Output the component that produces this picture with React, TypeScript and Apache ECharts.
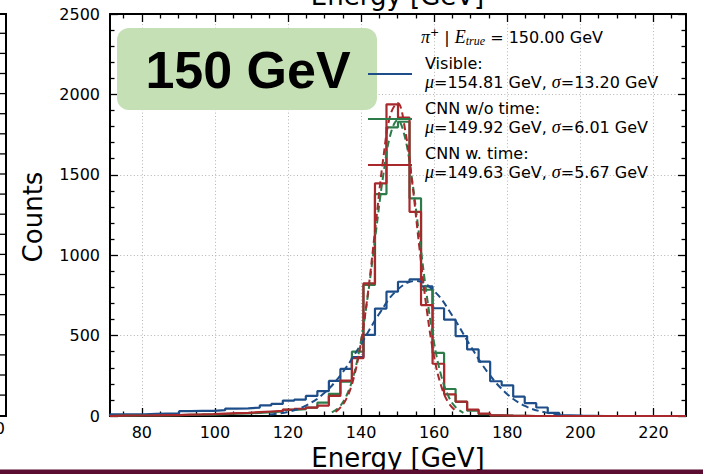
import React, { useEffect, useRef } from "react";
import * as echarts from "echarts";

// ---------- data ----------
const xMin = 71.3;
const xMax = 228.9;
const binWidth = 3.152;

const visibleCounts = [10, 10, 11, 14, 15, 16, 30, 32, 32, 36, 46, 48, 52, 66, 75, 96, 102, 125, 155, 218, 293, 366, 504, 668, 773, 835, 850, 806, 670, 599, 497, 414, 338, 216, 191, 120, 80, 53, 19, 4, 2, 1, 0, 0, 0, 0, 0, 0, 0, 0];
const cnnNoTimeCounts = [2, 2, 3, 3, 4, 5, 7, 8, 9, 12, 14, 16, 20, 24, 28, 38, 42, 52, 83, 138, 214, 400, 815, 1380, 1795, 1830, 1354, 785, 392, 168, 88, 33, 11, 4, 2, 1, 0, 0, 0, 0, 0, 0, 0, 0, 0, 0, 0, 0, 0, 0];
const cnnTimeCounts = [2, 3, 3, 4, 5, 6, 9, 10, 12, 15, 18, 20, 24, 28, 32, 40, 45, 52, 65, 125, 220, 359, 825, 1447, 1938, 1855, 1270, 690, 325, 135, 90, 40, 15, 4, 2, 1, 0, 0, 0, 0, 0, 0, 0, 0, 0, 0, 0, 0, 0, 0];

const visibleFitX = [115, 120, 125, 130, 135, 140, 145, 150, 155, 160, 165, 170, 175, 180, 185, 190, 194.5];
const visibleFitY = [9, 26, 66, 144, 273, 448, 637, 786, 840, 777, 623, 433, 261, 136, 61, 24, 10];
const cnnNoTimeFitX = [132, 134, 136, 138, 140, 142, 144, 146, 148, 150, 152, 154, 156, 158, 160, 162, 164, 166, 168];
const cnnNoTimeFitY = [22, 55, 126, 257, 471, 773, 1133, 1487, 1748, 1840, 1733, 1462, 1103, 745, 451, 244, 118, 51, 20];
const cnnTimeFitX = [133, 134, 136, 138, 140, 142, 144, 146, 148, 150, 152, 154, 156, 158, 160, 162, 164, 166];
const cnnTimeFitY = [26, 44, 108, 238, 462, 789, 1191, 1589, 1872, 1946, 1786, 1449, 1037, 656, 366, 181, 79, 30];

const seriesNames = ["Visible", "CNN w/o time", "CNN w. time"];
const fitMeans = [154.81, 149.92, 149.63];
const fitSigmas = [13.2, 6.01, 5.67];
const trueEnergy = 150.0;

const xMajorTicks = [80, 100, 120, 140, 160, 180, 200, 220];
const xMinorTicks = [75, 85, 90, 95, 105, 110, 115, 125, 130, 135, 145, 150, 155, 165, 170, 175, 185, 190, 195, 205, 210, 215, 225];
const yMax = 2500;
const yInterval = 500;

// ---------- styles ----------
const BLUE = "#1d4e89";
const GREEN = "#2e7b4a";
const RED = "#a8282c";
const FONT = "DejaVu Sans";
const GRID_LINE = { color: "#b4b4b4", width: 1, type: [1, 2.4] as any };

function stepPoints(counts: number[]) {
  const pts: number[][] = [[xMin, 0]];
  counts.forEach((c, i) => pts.push([xMin + i * binWidth, c]));
  const end = xMin + counts.length * binWidth;
  pts.push([end, counts[counts.length - 1]]);
  pts.push([end, 0]);
  return pts;
}

function zip(xs: number[], ys: number[]) {
  return xs.map((x, i) => [x, ys[i]]);
}

const histSeries = (name: string, counts: number[], color: string) => ({
  name,
  type: "line",
  step: "end",
  data: stepPoints(counts),
  showSymbol: false,
  symbol: "none",
  lineStyle: { color, width: 2.2 },
  z: 3,
  silent: true,
});

const fitSeries = (name: string, xs: number[], ys: number[], color: string) => ({
  name,
  type: "line",
  smooth: 0.4,
  data: zip(xs, ys),
  showSymbol: false,
  symbol: "none",
  lineStyle: { color, width: 2, type: [7, 4] },
  z: 4,
  silent: true,
});

const tickLine = { color: "#000", width: 1.3 };

const xAxisBase = { type: "value", min: xMin, max: xMax };

export default function App() {
  const ref = useRef<HTMLDivElement>(null);
  useEffect(() => {
    if (!ref.current) return;
    const chart = echarts.init(ref.current, null, { renderer: "svg" });

    const legendX = 425;
    const legendEntries = [
      { color: BLUE, y1: 63, y2: 82, handleY: 74 },
      { color: GREEN, y1: 108, y2: 127, handleY: 119 },
      { color: RED, y1: 153, y2: 172, handleY: 165 },
    ];
    const rich = {
      m: { fontFamily: "Liberation Serif", fontStyle: "italic", fontSize: 18 },
      sup: { fontFamily: FONT, fontSize: 11, verticalAlign: "top" },
      sub: { fontFamily: "Liberation Serif", fontStyle: "italic", fontSize: 12, verticalAlign: "bottom" },
    };
    const txt = (text: string, x: number, y: number, extra: any = {}) => ({
      type: "text",
      x,
      y,
      z: 100,
      silent: true,
      style: {
        text,
        fill: "#000",
        fontFamily: FONT,
        fontSize: 16,
        align: "left",
        verticalAlign: "middle",
        textAlign: "left",
        textVerticalAlign: "middle",
        rich,
        ...extra,
      },
    });

    const graphics: any[] = [];
    // label box
    graphics.push({ type: "rect", z: 100, silent: true, shape: { x: 117, y: 28, width: 260, height: 82, r: 12 }, style: { fill: "#c5e0b4" } });
    graphics.push(txt("150 GeV", 248, 69.5, { fontFamily: "Liberation Sans", fontWeight: "bold", fontSize: 52, align: "center", textAlign: "center" }));
    // legend
    graphics.push(txt(`{m|π}{sup|+} | {m|E}{sub|true} = ${trueEnergy.toFixed(2)} GeV`, 421, 37, { lineHeight: 20 }));
    legendEntries.forEach((e, i) => {
      graphics.push({ type: "line", z: 100, silent: true, shape: { x1: 368, y1: e.handleY, x2: 412, y2: e.handleY }, style: { stroke: e.color, lineWidth: 2 } });
      graphics.push(txt(`${seriesNames[i]}:`, legendX, e.y1));
      graphics.push(txt(`{m|μ}=${fitMeans[i].toFixed(2)} GeV, {m|σ}=${fitSigmas[i].toFixed(2)} GeV`, legendX, e.y2));
    });
    // axis titles
    const counts = txt("Counts", 33, 217, { fontSize: 26, align: "center", textAlign: "center" });
    (counts as any).rotation = Math.PI / 2;
    graphics.push(counts);
    graphics.push(txt("Energy [GeV]", 398, 458.3, { fontSize: 26, align: "center", textAlign: "center" }));
    // fragments of neighbouring panels (cropped in the reference)
    graphics.push(txt("Energy [GeV]", 397.5, -4.5, { fontSize: 26, align: "center", textAlign: "center" }));
    graphics.push({ type: "line", z: 100, silent: true, shape: { x1: 6, y1: 14, x2: 6, y2: 416 }, style: { stroke: "#000", lineWidth: 2 } });
    graphics.push({ type: "line", z: 100, silent: true, shape: { x1: 0, y1: 14, x2: 7, y2: 14 }, style: { stroke: "#000", lineWidth: 2 } });
    graphics.push({ type: "line", z: 100, silent: true, shape: { x1: 0, y1: 416, x2: 7, y2: 416 }, style: { stroke: "#000", lineWidth: 2 } });
    for (let k = 0; k < 19; k++) {
      const y = 33.3 + k * 20.1;
      graphics.push({ type: "line", z: 100, silent: true, shape: { x1: 0, y1: y, x2: 6, y2: y }, style: { stroke: "#000", lineWidth: 1.3 } });
    }
    graphics.push(txt("0", 5, 428, { align: "right", textAlign: "right" }));
    graphics.push({ type: "rect", z: 100, silent: true, shape: { x: 0, y: 469.5, width: 703, height: 5 }, style: { fill: "#5a0c31" } });

    const option: any = {
      animation: false,
      textStyle: { fontFamily: FONT },
      grid: { left: 110, top: 14, width: 576, height: 402, containLabel: false },
      xAxis: [
        {
          ...xAxisBase,
          position: "bottom",
          axisLine: { show: true, onZero: false, lineStyle: { color: "#000", width: 2 } },
          axisTick: { show: true, inside: true, length: 8, customValues: xMajorTicks, lineStyle: tickLine },
          axisLabel: { show: true, customValues: xMajorTicks, color: "#000", fontSize: 16, margin: 8, fontFamily: FONT, formatter: (v: number) => String(v) },
          splitLine: { show: true, lineStyle: GRID_LINE },
        },
        {
          ...xAxisBase,
          position: "bottom",
          axisLine: { show: false, onZero: false },
          axisTick: { show: true, inside: true, length: 4.5, customValues: xMinorTicks, lineStyle: tickLine },
          axisLabel: { show: false },
          splitLine: { show: false },
        },
        {
          ...xAxisBase,
          position: "top",
          axisLine: { show: true, onZero: false, lineStyle: { color: "#000", width: 2 } },
          axisTick: { show: true, inside: true, length: 8, customValues: xMajorTicks, lineStyle: tickLine },
          axisLabel: { show: false },
          splitLine: { show: false },
        },
        {
          ...xAxisBase,
          position: "top",
          axisLine: { show: false, onZero: false },
          axisTick: { show: true, inside: true, length: 4.5, customValues: xMinorTicks, lineStyle: tickLine },
          axisLabel: { show: false },
          splitLine: { show: false },
        },
      ],
      yAxis: [
        {
          type: "value",
          min: 0,
          max: yMax,
          interval: yInterval,
          position: "left",
          axisLine: { show: true, onZero: false, lineStyle: { color: "#000", width: 2 } },
          axisTick: { show: true, inside: true, length: 8, lineStyle: tickLine },
          minorTick: { show: true, splitNumber: 5, length: 4.5, lineStyle: tickLine },
          axisLabel: { show: true, color: "#000", fontSize: 16, margin: 10, fontFamily: FONT, formatter: (v: number) => String(v) },
          splitLine: { show: true, lineStyle: GRID_LINE },
        },
        {
          type: "value",
          min: 0,
          max: yMax,
          interval: yInterval,
          position: "right",
          axisLine: { show: true, onZero: false, lineStyle: { color: "#000", width: 2 } },
          axisTick: { show: true, inside: true, length: 8, lineStyle: tickLine },
          minorTick: { show: true, splitNumber: 5, length: 4.5, lineStyle: tickLine },
          axisLabel: { show: false },
          splitLine: { show: false },
        },
      ],
      series: [
        histSeries(seriesNames[0], visibleCounts, BLUE),
        histSeries(seriesNames[1], cnnNoTimeCounts, GREEN),
        histSeries(seriesNames[2], cnnTimeCounts, RED),
        fitSeries(seriesNames[0] + " fit", visibleFitX, visibleFitY, BLUE),
        fitSeries(seriesNames[1] + " fit", cnnNoTimeFitX, cnnNoTimeFitY, GREEN),
        fitSeries(seriesNames[2] + " fit", cnnTimeFitX, cnnTimeFitY, RED),
      ],
      graphic: { elements: graphics },
    };
    chart.setOption(option);
    return () => chart.dispose();
  }, []);
  return <div ref={ref} style={{ position: "absolute", left: 0, top: 0, width: 703, height: 474 }} />;
}
